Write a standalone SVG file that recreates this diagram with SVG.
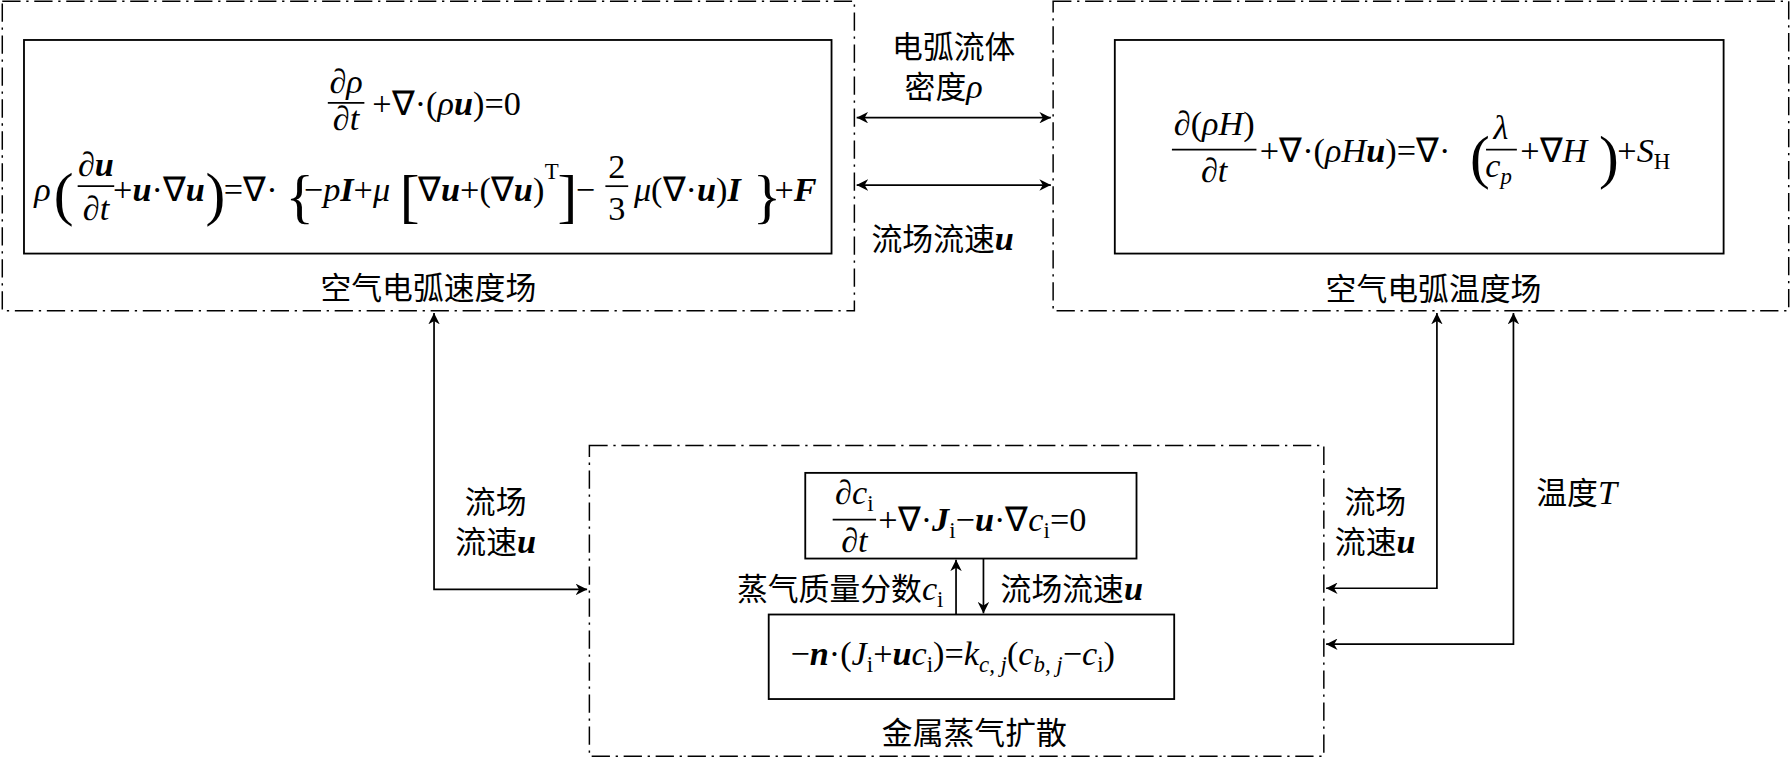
<svg xmlns="http://www.w3.org/2000/svg" width="1791" height="760" viewBox="0 0 1791 760">
<defs>
<marker id="ah" viewBox="0 0 10 10" refX="10" refY="5" markerWidth="10" markerHeight="10" markerUnits="userSpaceOnUse" orient="auto-start-reverse"><path d="M0,0 L10,5 L0,10 L3,5 Z" fill="#000"/></marker>
<style>
.dash{fill:none;stroke:#000;stroke-width:1.3;stroke-dasharray:16 5 2 5}
.box{fill:none;stroke:#000;stroke-width:1.6}
.ln{fill:none;stroke:#000;stroke-width:1.5}
.cn{font-family:"Noto Sans CJK SC","Liberation Serif",serif;font-size:27px;fill:#000}
.m{font-family:"Liberation Serif",serif;font-size:30px;fill:#000}
.i{font-style:italic}
.b{font-style:italic;font-weight:bold}
.s{font-size:20px}
.big{font-size:52px}
</style>
</defs>
<rect width="1791" height="760" fill="#fff"/>
<g transform="scale(1.14222)">
<g id="velocity">
<rect class="dash" x="2" y="1" width="746" height="271"/>
<rect class="box" x="21" y="35" width="707" height="187"/>
<text class="m" x="303" y="81" text-anchor="middle">∂<tspan class="i">ρ</tspan></text>
<line class="ln" x1="287" y1="90" x2="319" y2="90"/>
<text class="m" x="303" y="114" text-anchor="middle">∂<tspan class="i">t</tspan></text>
<text class="m" x="326" y="101">+∇·(<tspan class="i">ρ</tspan><tspan class="b">u</tspan>)=0</text>
<text class="m" x="30" y="176"><tspan class="i">ρ</tspan></text>
<text class="m big" x="47" y="187">(</text>
<text class="m" x="84" y="154" text-anchor="middle">∂<tspan class="b">u</tspan></text>
<line class="ln" x1="68" y1="163" x2="100" y2="163"/>
<text class="m" x="84" y="193" text-anchor="middle">∂<tspan class="i">t</tspan></text>
<text class="m" x="99" y="176">+<tspan class="b">u</tspan>·∇<tspan class="b">u</tspan></text>
<text class="m big" x="180" y="187">)</text>
<text class="m" x="196" y="176">=∇·</text>
<text class="m big" x="250" y="189">{</text>
<text class="m" x="266" y="176">−<tspan class="i">p</tspan><tspan class="b">I</tspan>+<tspan class="i">μ</tspan></text>
<text class="m big" x="350" y="189">[</text>
<text class="m" x="366" y="176">∇<tspan class="b">u</tspan>+(∇<tspan class="b">u</tspan>)</text>
<text class="m s" x="477" y="157">T</text>
<text class="m big" x="488" y="189">]</text>
<text class="m" x="504" y="176">−</text>
<text class="m" x="540" y="156" text-anchor="middle">2</text>
<line class="ln" x1="530" y1="163" x2="550" y2="163"/>
<text class="m" x="540" y="193" text-anchor="middle">3</text>
<text class="m" x="555" y="176"><tspan class="i">μ</tspan>(∇·<tspan class="b">u</tspan>)<tspan class="b">I</tspan></text>
<text class="m big" x="659" y="189">}</text>
<text class="m" x="678" y="176">+<tspan class="b">F</tspan></text>
<text class="cn" x="375" y="262" text-anchor="middle">空气电弧速度场</text>
</g>
<g id="temperature">
<rect class="dash" x="922" y="1" width="644" height="271"/>
<rect class="box" x="976" y="35" width="533" height="187"/>
<text class="m" x="1063" y="118" text-anchor="middle">∂(<tspan class="i">ρH</tspan>)</text>
<line class="ln" x1="1026" y1="131" x2="1100" y2="131"/>
<text class="m" x="1063" y="159" text-anchor="middle">∂<tspan class="i">t</tspan></text>
<text class="m" x="1103" y="142">+∇·(<tspan class="i">ρH</tspan><tspan class="b">u</tspan>)=∇·</text>
<text class="m big" x="1287" y="155">(</text>
<text class="m" x="1314" y="122" text-anchor="middle"><tspan class="i">λ</tspan></text>
<line class="ln" x1="1301" y1="131" x2="1328" y2="131"/>
<text class="m" x="1312" y="155" text-anchor="middle"><tspan class="i">c</tspan><tspan class="i s" dy="6">p</tspan></text>
<text class="m" x="1331" y="142">+∇<tspan class="i">H</tspan></text>
<text class="m big" x="1400" y="155">)</text>
<text class="m" x="1416" y="142">+<tspan class="i">S</tspan><tspan class="s" dy="6">H</tspan></text>
<text class="cn" x="1255" y="263" text-anchor="middle">空气电弧温度场</text>
</g>
<g id="diffusion">
<rect class="dash" x="516" y="390" width="643" height="272"/>
<rect class="box" x="705" y="414" width="290" height="75"/>
<text class="m" x="748" y="441" text-anchor="middle">∂<tspan class="i">c</tspan><tspan class="s" dy="6">i</tspan></text>
<line class="ln" x1="729" y1="455" x2="767" y2="455"/>
<text class="m" x="748" y="483" text-anchor="middle">∂<tspan class="i">t</tspan></text>
<text class="m" x="769" y="465">+∇·<tspan class="b">J</tspan><tspan class="s" dy="6">i</tspan><tspan dy="-6">−</tspan><tspan class="b">u</tspan>·∇<tspan class="i">c</tspan><tspan class="s" dy="6">i</tspan><tspan dy="-6">=0</tspan></text>
<rect class="box" x="673" y="538" width="355" height="74"/>
<text class="m" x="692" y="582">−<tspan class="b">n</tspan>·(<tspan class="i">J</tspan><tspan class="s" dy="6">i</tspan><tspan dy="-6">+</tspan><tspan class="b">u</tspan><tspan class="i">c</tspan><tspan class="s" dy="6">i</tspan><tspan dy="-6">)=</tspan><tspan class="i">k</tspan><tspan class="i s" dy="6">c, j</tspan><tspan dy="-6">(</tspan><tspan class="i">c</tspan><tspan class="i s" dy="6">b, j</tspan><tspan dy="-6">−</tspan><tspan class="i">c</tspan><tspan class="s" dy="6">i</tspan><tspan dy="-6">)</tspan></text>
<text class="cn" x="853" y="651" text-anchor="middle">金属蒸气扩散</text>
</g>
<g id="connectors">
<line class="ln" x1="750" y1="103" x2="920" y2="103" marker-start="url(#ah)" marker-end="url(#ah)"/>
<line class="ln" x1="750" y1="162" x2="920" y2="162" marker-start="url(#ah)" marker-end="url(#ah)"/>
<line class="ln" x1="837" y1="538" x2="837" y2="490" marker-end="url(#ah)"/>
<line class="ln" x1="861" y1="489" x2="861" y2="537" marker-end="url(#ah)"/>
<polyline class="ln" points="380,274 380,516 514,516" marker-start="url(#ah)" marker-end="url(#ah)"/>
<polyline class="ln" points="1258,274 1258,515 1161,515" marker-start="url(#ah)" marker-end="url(#ah)"/>
<polyline class="ln" points="1325,274 1325,564 1161,564" marker-start="url(#ah)" marker-end="url(#ah)"/>
<text class="cn" x="835" y="51" text-anchor="middle">电弧流体</text>
<text class="cn" x="792" y="86">密度<tspan class="m i">ρ</tspan></text>
<text class="cn" x="763" y="219">流场流速<tspan class="m b">u</tspan></text>
<text class="cn" x="826" y="525" text-anchor="end">蒸气质量分数<tspan class="m i">c</tspan><tspan class="m s" dy="6">i</tspan></text>
<text class="cn" x="876" y="525">流场流速<tspan class="m b">u</tspan></text>
<text class="cn" x="434" y="449" text-anchor="middle">流场</text>
<text class="cn" x="434" y="484" text-anchor="middle">流速<tspan class="m b">u</tspan></text>
<text class="cn" x="1204" y="449" text-anchor="middle">流场</text>
<text class="cn" x="1204" y="484" text-anchor="middle">流速<tspan class="m b">u</tspan></text>
<text class="cn" x="1345" y="441">温度<tspan class="m i">T</tspan></text>
</g>
</g>
</svg>
